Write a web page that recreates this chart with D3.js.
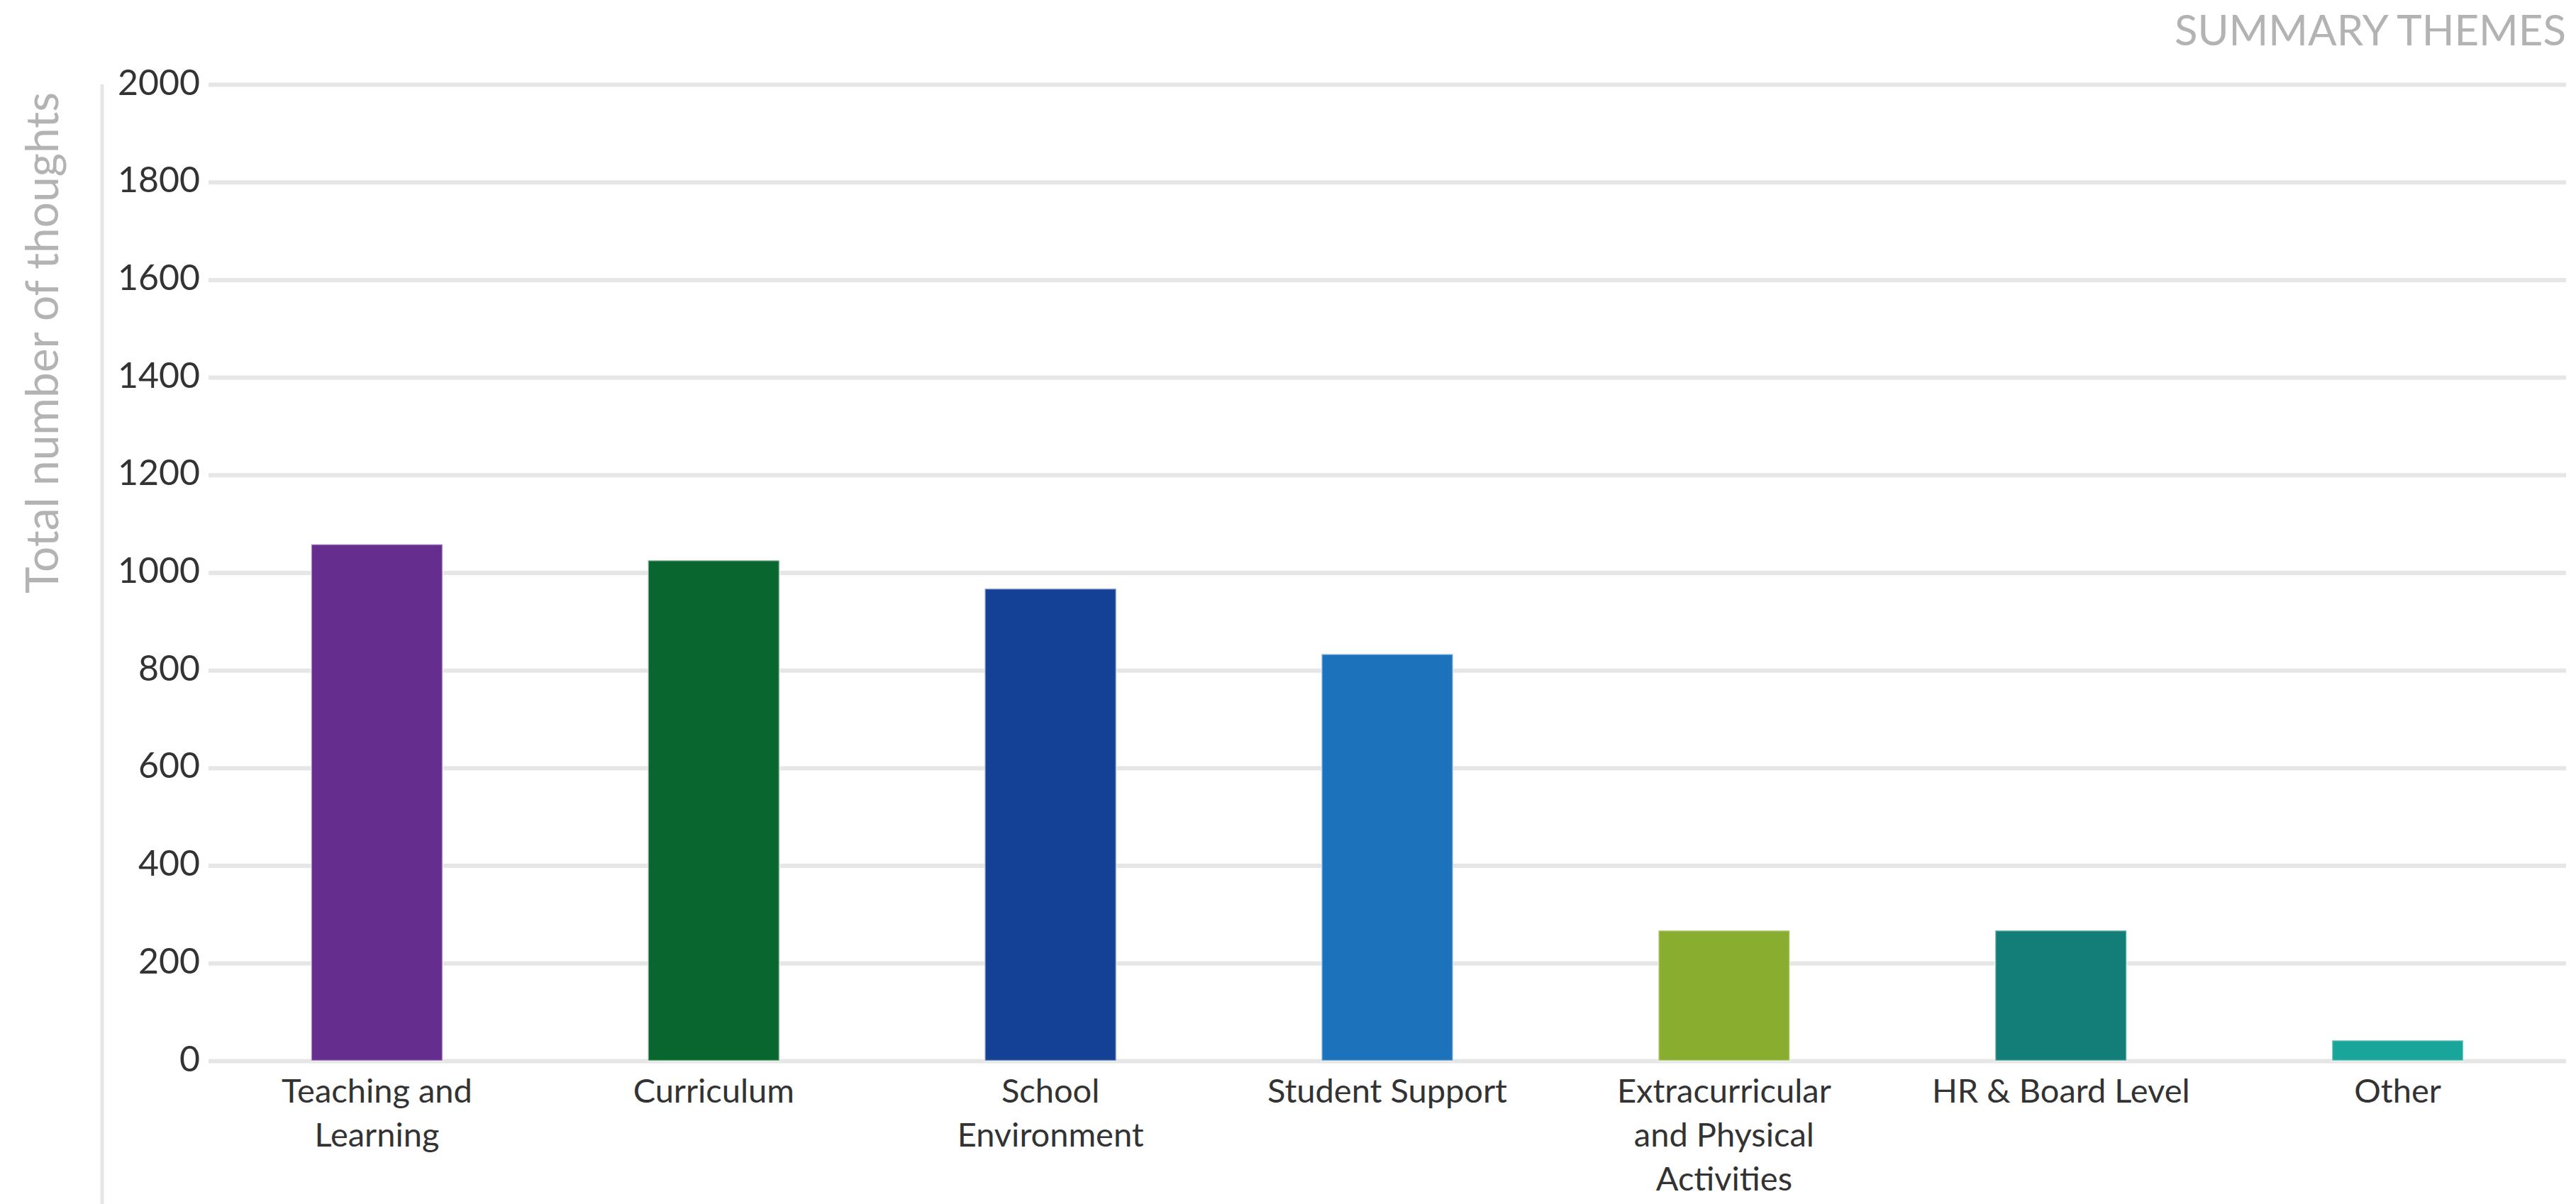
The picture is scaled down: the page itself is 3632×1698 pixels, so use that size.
<!DOCTYPE html>
<html>
<head>
<meta charset="utf-8">
<script src="https://cdn.jsdelivr.net/npm/d3@7"></script>
<style>
  html, body { margin: 0; padding: 0; background: #ffffff; }
  svg { display: block; }
</style>
</head>
<body>
<svg id="chart" width="3632" height="1698"></svg>
<script>
// ---- data ----
const categories = ["Teaching and Learning", "Curriculum", "School Environment", "Student Support",
  "Extracurricular and Physical Activities", "HR & Board Level", "Other"];
const values = [1058, 1025, 967, 833, 267, 267, 42];
const colors = ["#652d8e", "#0a662f", "#144196", "#1d73bb", "#89ad2f", "#137d77", "#1aa59b"];
const yTicks = [0, 200, 400, 600, 800, 1000, 1200, 1400, 1600, 1800, 2000];
const yTitle = "Total number of thoughts";
const cornerTitle = "SUMMARY THEMES";

// ---- layout ----
const W = 3632, H = 1698;
const plot = { left: 294, right: 3618, top: 119, bottom: 1496 };
const FONT = "Lato, 'Open Sans', sans-serif";

const svg = d3.select("#chart");

const x = d3.scaleBand()
  .domain(categories)
  .range([plot.left, plot.right])
  .paddingInner(0.61)
  .paddingOuter(0.305);

const y = d3.scaleLinear()
  .domain([0, 2000])
  .range([plot.bottom, plot.top]);

// container border line (left)
svg.append("line")
  .attr("x1", 144).attr("x2", 144)
  .attr("y1", plot.top).attr("y2", H)
  .attr("stroke", "#e6e6e6").attr("stroke-width", 5);

// gridlines via axis
const yAxis = d3.axisLeft(y).tickValues(yTicks).tickFormat(d3.format("d"))
  .tickSize(-(plot.right - plot.left)).tickPadding(12);
const gy = svg.append("g")
  .attr("transform", `translate(${plot.left},0)`)
  .call(yAxis);
gy.select(".domain").remove();
gy.selectAll(".tick line").attr("stroke", "#e6e6e6").attr("stroke-width", 6);
gy.selectAll(".tick text")
  .attr("font-family", FONT)
  .attr("font-size", 50)
  .attr("fill", "#333333")
  .attr("dy", "0.28em");

// bars
svg.append("g").selectAll("rect")
  .data(values)
  .join("rect")
  .attr("x", (d, i) => x(categories[i]))
  .attr("width", x.bandwidth())
  .attr("y", d => y(d))
  .attr("height", d => y(0) - y(d))
  .attr("fill", (d, i) => colors[i])
  .attr("stroke", "#ffffff")
  .attr("stroke-opacity", 0.45)
  .attr("stroke-width", 2.5);

// x axis labels
const xAxis = d3.axisBottom(x).tickSize(0).tickPadding(0);
const gx = svg.append("g")
  .attr("transform", `translate(0,${plot.bottom})`)
  .call(xAxis);
gx.select(".domain").remove();

const maxLabelWidth = 370;
gx.selectAll(".tick text").each(function(d) {
  const t = d3.select(this);
  t.text(null)
    .attr("font-family", FONT)
    .attr("font-size", 47)
    .attr("fill", "#333333")
    .attr("text-anchor", "middle")
    .attr("y", 0)
    .attr("dy", null);
  const words = d.split(" ");
  const lines = [];
  let cur = [];
  const probe = t.append("tspan");
  words.forEach(w => {
    const test = cur.concat([w]).join(" ");
    probe.text(test);
    if (probe.node().getComputedTextLength() > maxLabelWidth && cur.length) {
      lines.push(cur.join(" "));
      cur = [w];
    } else {
      cur.push(w);
    }
  });
  lines.push(cur.join(" "));
  probe.remove();
  lines.forEach((ln, k) => {
    t.append("tspan").attr("x", 0).attr("y", 59 + k * 62).text(ln);
  });
});

// y axis title
svg.append("text")
  .attr("transform", `translate(82,${(plot.top + 840) / 2 + 4}) rotate(-90)`)
  .attr("text-anchor", "middle")
  .attr("font-family", FONT)
  .attr("font-size", 64)
  .attr("fill", "#b3b3b3")
  .text(yTitle);

// corner title
svg.append("text")
  .attr("x", 3618).attr("y", 64)
  .attr("text-anchor", "end")
  .attr("font-family", FONT)
  .attr("font-size", 60)
  .attr("fill", "#b3b3b3")
  .text(cornerTitle);
</script>
</body>
</html>
